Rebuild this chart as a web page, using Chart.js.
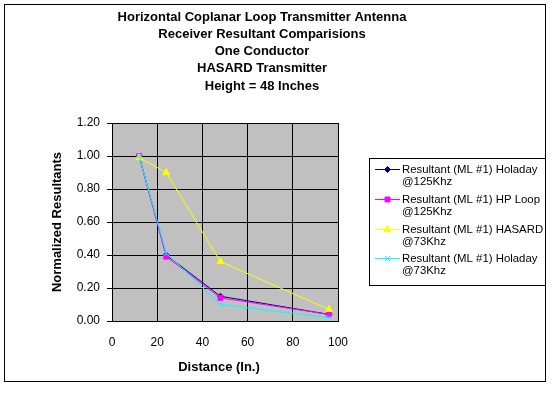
<!DOCTYPE html>
<html>
<head>
<meta charset="utf-8">
<script src="https://cdn.jsdelivr.net/npm/chart.js@4/dist/chart.umd.min.js"></script>
<style>
html,body{margin:0;padding:0;background:#fff;}
#wrap{width:553px;height:397px;position:relative;}
</style>
</head>
<body>
<div id="wrap"><canvas id="c" width="553" height="397"></canvas></div>
<script>
const titleLines = ["Horizontal Coplanar Loop Transmitter Antenna","Receiver Resultant Comparisions","One Conductor","HASARD Transmitter","Height = 48 Inches"];
const xTitle = "Distance (In.)";
const yTitle = "Normalized Resultants";
const distances = [12, 24, 48, 96];
const holaday125 = [1.00, 0.40, 0.15, 0.04];
const hpLoop125 = [1.00, 0.39, 0.14, 0.04];
const hasard73 = [0.99, 0.90, 0.36, 0.07];
const holaday73 = [1.00, 0.41, 0.10, 0.02];
const seriesNames = [
  ["Resultant (ML #1) Holaday","@125Khz"],
  ["Resultant (ML #1) HP Loop","@125Khz"],
  ["Resultant (ML #1) HASARD","@73Khz"],
  ["Resultant (ML #1) Holaday","@73Khz"]
];
const FONT = "Arial, 'Liberation Sans', sans-serif";

function pts(arr){ return distances.map((d,i)=>({x:d,y:arr[i]})); }

const styles = [
  {c:'#000080', p:'rectRot', r:3},
  {c:'#FF00FF', p:'rect', r:3.5},
  {c:'#FFFF00', p:'triangle', r:4},
  {c:'#00FFFF', p:'crossRot', r:3.5}
];
const allData = [holaday125, hpLoop125, hasard73, holaday73];

const datasets = allData.map((arr,i)=>({
  label: seriesNames[i].join(' '),
  data: pts(arr),
  order: 3 - i,
  borderColor: styles[i].c,
  backgroundColor: styles[i].c,
  pointStyle: styles[i].p,
  pointRadius: styles[i].r,
  pointBorderColor: styles[i].c,
  pointBackgroundColor: styles[i].c,
  pointBorderWidth: 1,
  borderWidth: 1,
  showLine: true,
  tension: 0
}));

const bgPlugin = {
  id:'bg',
  beforeDraw(chart){
    const {ctx, chartArea:a} = chart;
    ctx.save();
    ctx.fillStyle = '#C0C0C0';
    ctx.fillRect(a.left, a.top, a.right-a.left, a.bottom-a.top);
    ctx.restore();
  },
  afterDraw(chart){
    const {ctx, chartArea:a} = chart;
    ctx.save();
    ctx.strokeStyle = '#000';
    ctx.lineWidth = 1;
    ctx.strokeRect(4.5, 4.5, 541, 377);
    ctx.fillStyle = '#000';
    ctx.textAlign = 'center';
    ctx.textBaseline = 'middle';
    ctx.font = "bold 13px " + FONT;
    titleLines.forEach((t,i)=>ctx.fillText(t, 262, 17 + i*17.3));
    ctx.font = "bold 13px " + FONT;
    ctx.fillText(xTitle, 219, 367);
    ctx.save();
    ctx.translate(57, (a.top+a.bottom)/2);
    ctx.rotate(-Math.PI/2);
    ctx.fillText(yTitle, 0, 0);
    ctx.restore();
    // legend
    ctx.fillStyle = '#fff';
    ctx.fillRect(369.5, 158.5, 176, 127);
    ctx.strokeStyle = '#000';
    ctx.strokeRect(369.5, 158.5, 176, 127);
    ctx.font = "11.4px " + FONT;
    ctx.textAlign = 'left';
    chart.data.datasets.forEach((ds,i)=>{
      const y = Math.round(169 + i*29.8) + 0.5;
      ctx.strokeStyle = ds.borderColor;
      ctx.lineWidth = 1;
      ctx.beginPath();
      ctx.moveTo(375, y);
      ctx.lineTo(400, y);
      ctx.stroke();
      ctx.fillStyle = ds.pointBackgroundColor;
      ctx.strokeStyle = ds.pointBorderColor;
      Chart.helpers.drawPoint(ctx, {pointStyle: ds.pointStyle, radius: ds.pointRadius, rotation:0, borderWidth:1}, 387.5, y);
      ctx.fillStyle = '#000';
      ctx.fillText(seriesNames[i][0], 402, y);
      ctx.fillText(seriesNames[i][1], 402, y+12.5);
    });
    ctx.restore();
  }
};

new Chart(document.getElementById('c'), {
  type: 'scatter',
  data: { datasets },
  options: {
    responsive: false,
    animation: false,
    devicePixelRatio: 1,
    layout: { padding: { left: 0, top: 123, right: 215, bottom: 46 } },
    plugins: { legend: { display:false }, title:{display:false}, tooltip:{enabled:false} },
    scales: {
      x: {
        type:'linear', min:0, max:100,
        ticks: { stepSize:20, color:'#000', font:{family:FONT, size:12}, padding: 14 },
        grid: { color:'#000', lineWidth:1, drawTicks:false },
        border: { color:'#000', width:1 },
        afterFit(s){ s.height = 30; }
      },
      y: {
        type:'linear', min:0, max:1.2,
        ticks: { stepSize:0.2, color:'#000', font:{family:FONT, size:12}, padding: 7,
          callback: v => Number(v).toFixed(2) },
        grid: { color:'#000', lineWidth:1, tickLength:5 },
        border: { color:'#000', width:1 },
        afterFit(s){ s.width = 112; }
      }
    }
  },
  plugins: [bgPlugin]
});
</script>
</body>
</html>
